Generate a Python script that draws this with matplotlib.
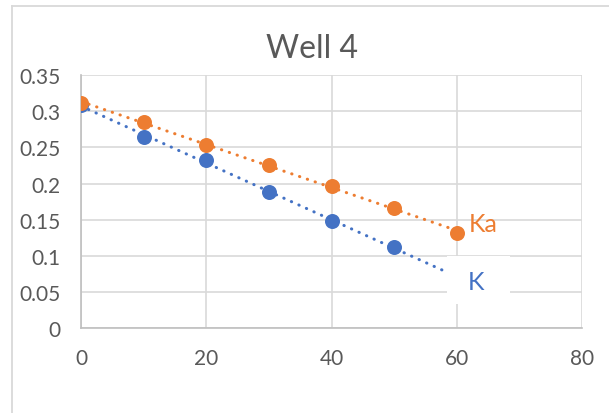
import numpy as np
import matplotlib
matplotlib.use("Agg")
import matplotlib.pyplot as plt
from matplotlib.lines import Line2D
from matplotlib.patches import Rectangle

# Measurements for Well 4
time_ka = [0, 10, 20, 30, 40, 50, 60]
ka_vals = [0.311, 0.285, 0.254, 0.226, 0.196, 0.166, 0.132]
time_k = [0, 10, 20, 30, 40, 50]
k_vals = [0.309, 0.264, 0.232, 0.188, 0.148, 0.112]

title = "Well 4"
x_ticks = [0, 20, 40, 60, 80]
y_ticks = [0, 0.05, 0.1, 0.15, 0.2, 0.25, 0.3, 0.35]

ORANGE = "#ED7D31"
BLUE = "#4472C4"
TEXT = "#595959"
GRID = "#D9D9D9"

plt.rcParams["font.family"] = ["Lato", "DejaVu Sans"]

fig = plt.figure(figsize=(6.09, 4.14), dpi=100)
ax = fig.add_axes([0.133, 0.205, 0.823, 0.611])

# chart frame
fig.add_artist(Line2D([11.5/609, 11.5/609], [0, 1 - 6.5/414], color=GRID, lw=1.3, transform=fig.transFigure))
fig.add_artist(Line2D([11.5/609, 1], [1 - 6.5/414, 1 - 6.5/414], color=GRID, lw=1.3, transform=fig.transFigure))

dot = (0, (0.1, 2.6))

# linear trendlines (K is forecast forward to t=60)
for xs, ys, color, x_end in [(time_k, k_vals, BLUE, 60), (time_ka, ka_vals, ORANGE, 60)]:
    m, b = np.polyfit(xs, ys, 1)
    xx = np.array([0, x_end])
    ax.plot(xx, m * xx + b, color=color, lw=2.2, linestyle=dot,
            dash_capstyle="round", zorder=3)

ax.plot(time_k, k_vals, "o", color=BLUE, ms=10.8, mec="none", zorder=4)
ax.plot(time_ka, ka_vals, "o", color=ORANGE, ms=10.8, mec="none", zorder=5)

# series labels
ax.text(61.9, 0.1453, "Ka", color=ORANGE, fontsize=18, va="center", ha="left", zorder=7)
ax.add_patch(Rectangle((58.4, 0.0332), 10.1, 0.0664, facecolor="white",
                       edgecolor="none", zorder=6))
ax.text(61.8, 0.065, "K", color=BLUE, fontsize=18, va="center", ha="left", zorder=7)

ax.set_xlim(0, 80)
ax.set_ylim(0, 0.35)
ax.set_xticks(x_ticks)
ax.set_yticks(y_ticks)
ax.set_yticklabels([f"{v:g}" for v in y_ticks])
ax.tick_params(length=0, labelsize=15, colors=TEXT)
ax.tick_params(axis="y", pad=15)
ax.tick_params(axis="x", pad=14)
ax.grid(True, color=GRID, lw=1.2)
ax.set_axisbelow(True)
for side in ["top", "right"]:
    ax.spines[side].set_visible(False)
for side in ["left", "bottom"]:
    ax.spines[side].set_color("#BFBFBF")
    ax.spines[side].set_linewidth(1.2)

fig.text(311.5/609, 1 - 49/414, title, ha="center", va="center", fontsize=23, color=TEXT)

fig.savefig("out.png", dpi=100, facecolor="white")
